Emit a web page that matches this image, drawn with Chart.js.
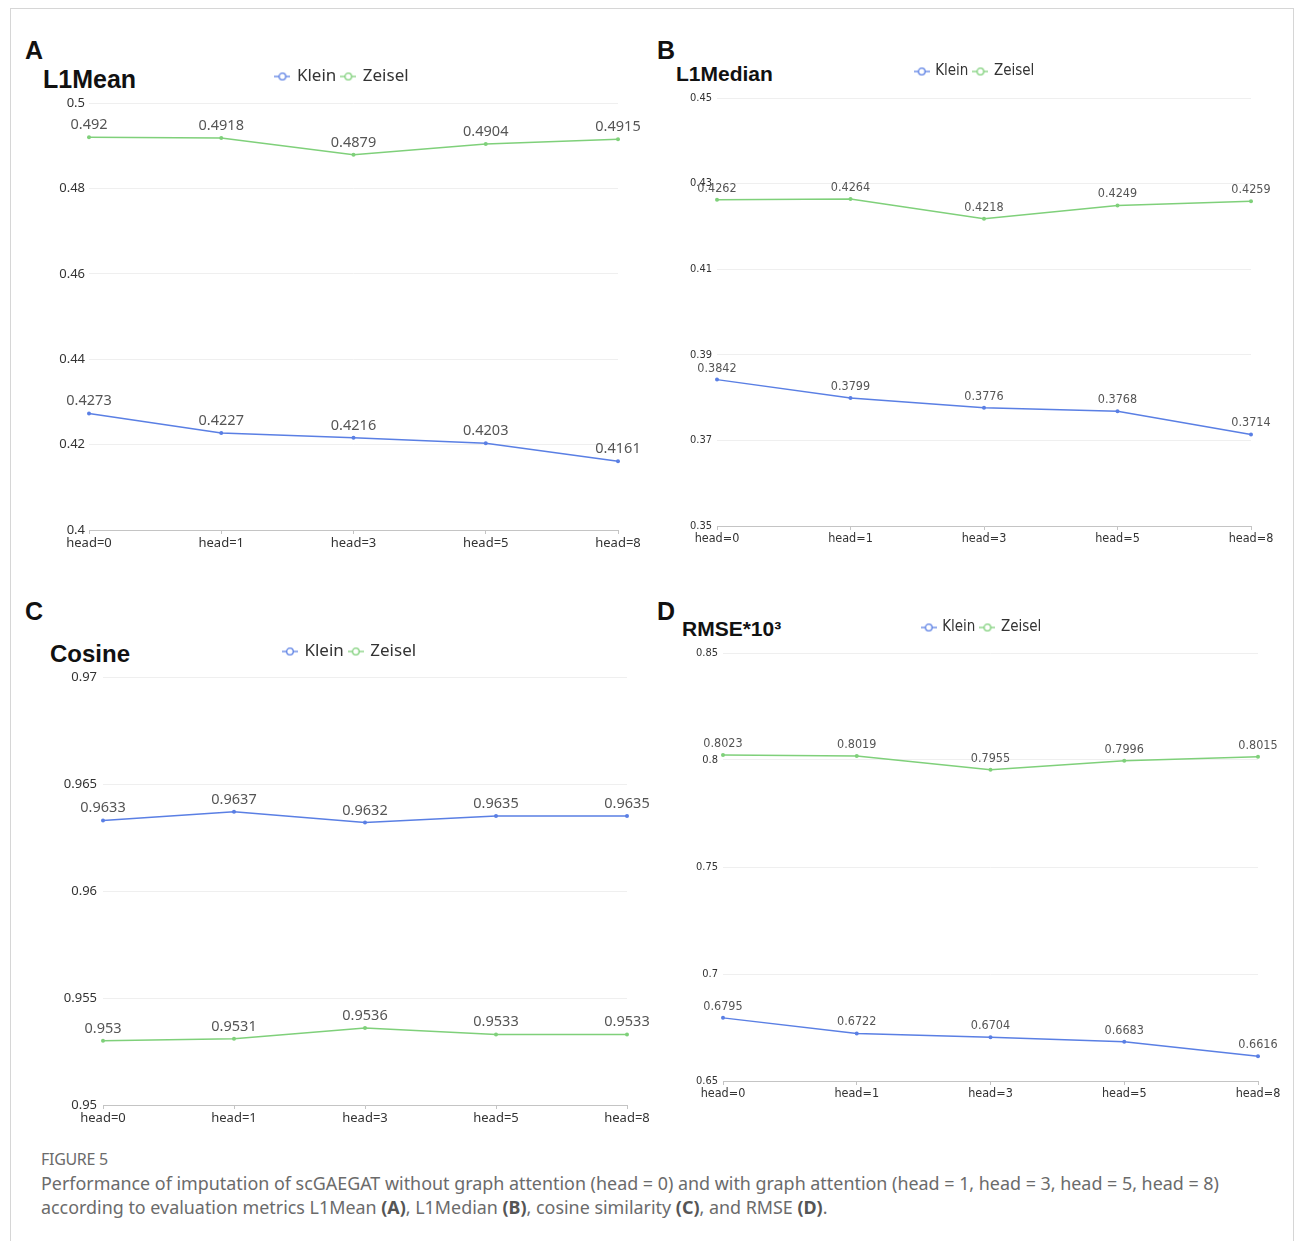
<!DOCTYPE html>
<html>
<head>
<meta charset="utf-8">
<script src="https://cdn.jsdelivr.net/npm/chart.js@4.4.1/dist/chart.umd.min.js"></script>
<style>
  body { margin: 0; background: #fff; width: 1295px; height: 1241px; position: relative; overflow: hidden; }
  .frame { position: absolute; left: 10px; top: 8px; width: 1282px; height: 1260px; border: 1px solid #d6d6d6; }
  .letter { position: absolute; font: bold 25px "Liberation Sans", Arial, sans-serif; line-height: 25px; color: #111; }
  .metric { position: absolute; font-family: "Liberation Sans", Arial, sans-serif; font-weight: bold; color: #111; line-height: 1; white-space: nowrap; }
  canvas { position: absolute; }
  .caption { position: absolute; left: 41px; top: 1147px; font: 17.9px "Noto Sans", sans-serif; line-height: 24px; color: #6b6b6b; white-space: nowrap; }
  .caption .fig { font-size: 16px; letter-spacing: -0.3px; }
  .caption b { color: #555; }
</style>
</head>
<body>
<div class="frame"></div>

<div class="letter" style="left:25px; top:38px;">A</div>
<div class="metric" style="left:43px; top:67px; font-size:25px;">L1Mean</div>
<div class="letter" style="left:657px; top:38px;">B</div>
<div class="metric" style="left:676px; top:63px; font-size:21px;">L1Median</div>
<div class="letter" style="left:25px; top:599px;">C</div>
<div class="metric" style="left:50px; top:642px; font-size:24px;">Cosine</div>
<div class="letter" style="left:657px; top:599px;">D</div>
<div class="metric" style="left:682px; top:618px; font-size:21px;">RMSE*10³</div>

<canvas id="l1mean"></canvas>
<canvas id="l1median"></canvas>
<canvas id="cosine"></canvas>
<canvas id="rmse"></canvas>

<div class="caption">
  <div class="fig">FIGURE 5</div>
  <div>Performance of imputation of scGAEGAT without graph attention (head = 0) and with graph attention (head = 1, head = 3, head = 5, head = 8)</div>
  <div>according to evaluation metrics L1Mean <b>(A)</b>, L1Median <b>(B)</b>, cosine similarity <b>(C)</b>, and RMSE <b>(D)</b>.</div>
</div>

<script>
// categories and per-metric results
const heads = ['head=0', 'head=1', 'head=3', 'head=5', 'head=8'];

const l1meanKlein = [0.4273, 0.4227, 0.4216, 0.4203, 0.4161];
const l1meanZeisel = [0.492, 0.4918, 0.4879, 0.4904, 0.4915];
const l1medianKlein = [0.3842, 0.3799, 0.3776, 0.3768, 0.3714];
const l1medianZeisel = [0.4262, 0.4264, 0.4218, 0.4249, 0.4259];
const cosineKlein = [0.9633, 0.9637, 0.9632, 0.9635, 0.9635];
const cosineZeisel = [0.953, 0.9531, 0.9536, 0.9533, 0.9533];
const rmseKlein = [0.6795, 0.6722, 0.6704, 0.6683, 0.6616];
const rmseZeisel = [0.8023, 0.8019, 0.7955, 0.7996, 0.8015];

// y axis range: min, max, step
const l1meanRange = [0.4, 0.5, 0.02];
const l1medianRange = [0.35, 0.45, 0.02];
const cosineRange = [0.95, 0.97, 0.005];
const rmseRange = [0.65, 0.85, 0.05];

const kleinColor = '#5a7fe4';
const zeiselColor = '#7fd07a';

const wideFont = '"Noto Sans", sans-serif';
const narrowFont = '"DejaVu Sans Condensed", "Liberation Sans Narrow", sans-serif';

// small "-o-" marker used in the legend
function legendIcon(color) {
    const c = document.createElement('canvas');
    c.width = 16;
    c.height = 10;
    const g = c.getContext('2d');
    g.strokeStyle = color;
    g.lineWidth = 1.3;
    g.beginPath();
    g.moveTo(0, 5);
    g.lineTo(16, 5);
    g.stroke();
    g.beginPath();
    g.arc(8, 5, 3.3, 0, Math.PI * 2);
    g.fillStyle = '#fff';
    g.fill();
    g.stroke();
    return c;
}
const icons = { Klein: legendIcon(kleinColor), Zeisel: legendIcon(zeiselColor) };

// extra room under the legend, and a sideways nudge of the legend row
const legendGap = {
    id: 'legendGap',
    beforeInit(chart, args, opts) {
        const fit = chart.legend.fit;
        chart.legend.fit = function () {
            fit.call(this);
            this.height += opts.extra || 0;
        };
    },
    afterLayout(chart, args, opts) {
        chart.legend.left += opts.shift || 0;
        chart.legend.right += opts.shift || 0;
    }
};

// value printed above every point
const valueLabels = {
    id: 'valueLabels',
    afterDatasetsDraw(chart, args, opts) {
        const ctx = chart.ctx;
        ctx.save();
        ctx.font = opts.font;
        ctx.fillStyle = opts.color;
        ctx.textAlign = 'center';
        ctx.textBaseline = 'alphabetic';
        chart.data.datasets.forEach((ds, i) => {
            chart.getDatasetMeta(i).data.forEach((pt, j) => {
                ctx.fillText(String(ds.data[j]), pt.x, pt.y - opts.offset);
            });
        });
        ctx.restore();
    }
};

function makeSeries(label, color, data) {
    return {
        label,
        data,
        borderColor: color,
        backgroundColor: color,
        borderWidth: 1.5,
        pointRadius: 2,
        pointBorderWidth: 0,
        pointBackgroundColor: color,
        tension: 0,
        clip: false
    };
}

function drawPanel(p) {
    const canvas = document.getElementById(p.id);
    canvas.width = p.width;
    canvas.height = p.height;
    canvas.style.left = p.left + 'px';
    canvas.style.top = p.top + 'px';
    const family = p.narrow ? narrowFont : wideFont;

    return new Chart(canvas, {
        type: 'line',
        data: {
            labels: heads,
            datasets: [
                makeSeries('Klein', kleinColor, p.klein),
                makeSeries('Zeisel', zeiselColor, p.zeisel)
            ]
        },
        options: {
            responsive: false,
            animation: false,
            layout: { padding: { left: 0, right: 30, top: 0, bottom: 0 } },
            plugins: {
                tooltip: { enabled: false },
                legend: {
                    position: 'top',
                    align: 'center',
                    labels: {
                        usePointStyle: true,
                        pointStyleWidth: 12,
                        padding: 6,
                        color: '#333',
                        font: { family, size: p.legendSize },
                        generateLabels(chart) {
                            const items = Chart.defaults.plugins.legend.labels.generateLabels(chart);
                            items.forEach(it => { it.pointStyle = icons[it.text]; });
                            return items;
                        }
                    }
                },
                legendGap: { extra: p.gap, shift: p.shift },
                valueLabels: { font: p.valueFont, color: '#555', offset: 8 }
            },
            scales: {
                x: {
                    offset: false,
                    grid: { drawOnChartArea: false, drawTicks: true, tickLength: 4, color: '#c4c4c4' },
                    border: { color: '#c4c4c4' },
                    ticks: {
                        autoSkip: false,
                        maxRotation: 0,
                        padding: 1,
                        color: '#333',
                        font: { family, size: p.xSize }
                    },
                    afterFit(scale) { scale.height = 22; }
                },
                y: {
                    min: p.range[0],
                    max: p.range[1],
                    grid: { color: '#efefef', drawTicks: false },
                    border: { display: false },
                    ticks: {
                        stepSize: p.range[2],
                        padding: p.tickGap,
                        color: '#333',
                        font: { family, size: p.ySize },
                        callback: v => String(+v.toFixed(4))
                    },
                    afterFit(scale) { scale.width = p.yWidth; }
                }
            }
        },
        plugins: [legendGap, valueLabels]
    });
}

drawPanel({
    id: 'l1mean', klein: l1meanKlein, zeisel: l1meanZeisel, range: l1meanRange,
    left: 49, top: 62, width: 599, height: 490, yWidth: 40, tickGap: 4, gap: 8, shift: 9,
    narrow: false, legendSize: 17, xSize: 13, ySize: 13, valueFont: '14.5px "Noto Sans", sans-serif'
});
drawPanel({
    id: 'l1median', klein: l1medianKlein, zeisel: l1medianZeisel, range: l1medianRange,
    left: 683, top: 58, width: 598, height: 490, yWidth: 34, tickGap: 5, gap: 9, shift: 8,
    narrow: true, legendSize: 15, xSize: 12.5, ySize: 11, valueFont: '12.5px "DejaVu Sans Condensed", sans-serif'
});
drawPanel({
    id: 'cosine', klein: cosineKlein, zeisel: cosineZeisel, range: cosineRange,
    left: 55, top: 637, width: 602, height: 490, yWidth: 48, tickGap: 6, gap: 7, shift: 9,
    narrow: false, legendSize: 17, xSize: 13, ySize: 13, valueFont: '14.5px "Noto Sans", sans-serif'
});
drawPanel({
    id: 'rmse', klein: rmseKlein, zeisel: rmseZeisel, range: rmseRange,
    left: 689, top: 614, width: 599, height: 489, yWidth: 34, tickGap: 5, gap: 8, shift: 8.5,
    narrow: true, legendSize: 15, xSize: 12.5, ySize: 11, valueFont: '12.5px "DejaVu Sans Condensed", sans-serif'
});
</script>
</body>
</html>
